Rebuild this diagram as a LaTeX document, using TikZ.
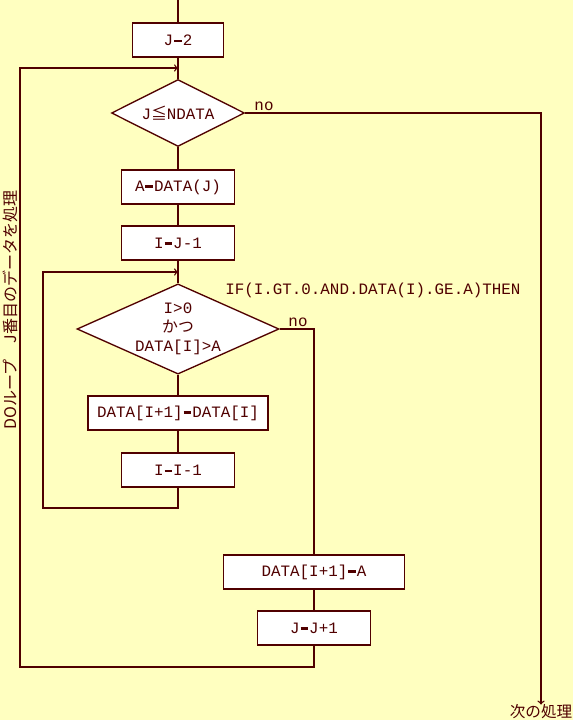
\documentclass[tikz,border=0pt]{standalone}
\usepackage{fontspec}
\setmonofont{Liberation Mono}
\newfontfamily\jpfont{Noto Sans CJK JP}
\usetikzlibrary{arrows,shapes.geometric}
\definecolor{flowbg}{HTML}{FFFFC0}
\definecolor{flowline}{HTML}{500000}
% thick bar used as the assignment sign
\newcommand{\asgn}{\makebox[0.6em]{\rule[0.22em]{0.5em}{0.14em}}}
\tikzset{
  flow/.style={draw=flowline, line width=1pt},
  procbox/.style={draw=flowline, line width=1pt, fill=white, inner sep=0pt,
    minimum height=25.5pt, text=flowline, font=\ttfamily\fontsize{11.9}{15}\selectfont},
  decbox/.style={diamond, draw=flowline, line width=1pt, fill=white, inner sep=0pt,
    align=center, text=flowline, font=\ttfamily\fontsize{11.9}{14}\selectfont},
  plain/.style={text=flowline, inner sep=0pt, font=\ttfamily\fontsize{11.9}{15}\selectfont}
}
\begin{document}
\begin{tikzpicture}[x=0.75pt, y=-0.75pt]
\useasboundingbox[fill=flowbg] (0,0) rectangle (573,720);
% outer loop
\coordinate (top) at (178,0);
\node[procbox, minimum width=68.25pt] (j2) at (178,40) {J\asgn 2};
\node[decbox, aspect=2, minimum width=99.75pt, minimum height=50.25pt] (cond1) at (178,113) {J{\jpfont ≦}NDATA};
\node[procbox, minimum width=84.75pt] (adata) at (178,187) {A\asgn DATA(J)};
\node[procbox, minimum width=84.75pt] (ij1) at (178,243) {I\asgn J-1};
% inner loop
\node[decbox, aspect=2.2, minimum width=151.5pt, minimum height=67.5pt] (cond2) at (178,329) {I>0\\{\jpfont かつ}\\DATA[I]>A};
\node[procbox, minimum width=135pt] (shift) at (178,413) {DATA[I+1]\asgn DATA[I]};
\node[procbox, minimum width=84.75pt] (idec) at (178,470) {I\asgn I-1};
\node[procbox, minimum width=135.75pt] (insert) at (314,572) {DATA[I+1]\asgn A};
\node[procbox, minimum width=84.75pt] (jinc) at (314,628) {J\asgn J+1};
\node[plain, anchor=west] (iftext) at (225,290) {IF(I.GT.0.AND.DATA(I).GE.A)THEN};
\node[plain] (no1) at (264,106) {no};
\node[plain] (no2) at (298,322) {no};
\node[text=flowline, inner sep=0pt, font=\jpfont\fontsize{11.7}{14}\selectfont] (next) at (541,712) {次の処理};
\node[text=flowline, inner sep=0pt, rotate=90, font=\jpfont\fontsize{12}{14}\selectfont] (looplabel) at (10,310) {DOループ　J番目のデータを処理};
\coordinate (loopL1) at (20,68);
\coordinate (loopB1) at (20,667);
\coordinate (loopL2) at (43,272);
\coordinate (loopB2) at (43,508);
\coordinate (exit1) at (541,113);
\coordinate (exit2) at (314,329);
% connectors
\draw[flow] (top) -- (j2);
\draw[flow] (j2) -- (cond1);
\draw[flow] (cond1) -- (adata);
\draw[flow] (adata) -- (ij1);
\draw[flow] (ij1) -- (cond2);
\draw[flow] (cond2) -- (shift);
\draw[flow] (shift) -- (idec);
\draw[flow] (insert) -- (jinc);
\draw[flow, ->] (idec.south) -- (idec.south |- loopB2) -- (loopB2) -- (loopL2) -- (loopL2 -| ij1.south);
\draw[flow, ->] (jinc.south) -- (jinc.south |- loopB1) -- (loopB1) -- (loopL1) -- (loopL1 -| j2.south);
\draw[flow, ->] (cond1.east) -- (exit1) -- (next.north);
\draw[flow] (cond2.east) -- (exit2) -- (insert.north);
\end{tikzpicture}
\end{document}
